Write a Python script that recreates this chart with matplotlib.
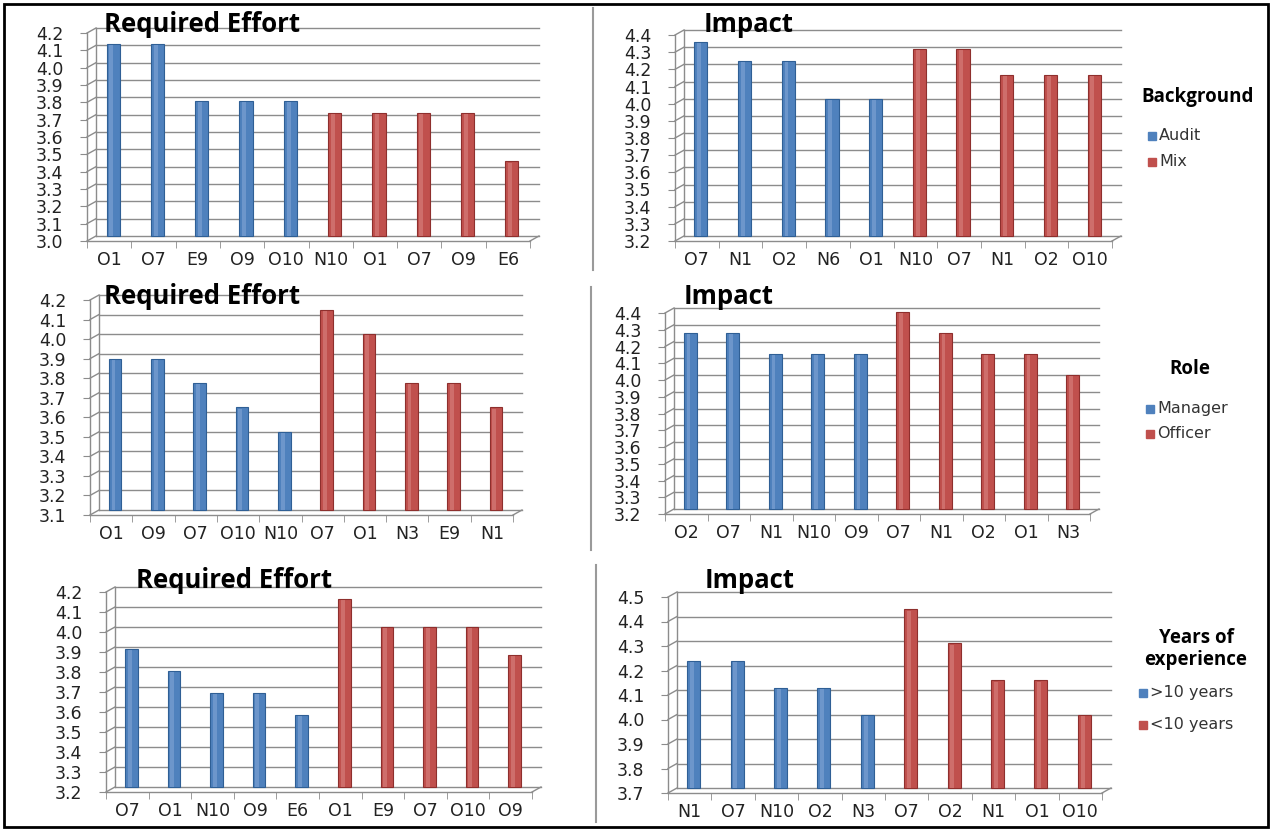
import numpy as np
import matplotlib
matplotlib.use("Agg")
import matplotlib.pyplot as plt
import matplotlib.transforms as mtransforms
from matplotlib.patches import Rectangle
from matplotlib.lines import Line2D

plt.rcParams["font.family"] = ["DejaVu Sans"]

W, H = 1272, 831

# ---- data ----
bg_effort_labels = ["O1", "O7", "E9", "O9", "O10", "N10", "O1", "O7", "O9", "E6"]
bg_effort_audit = [4.11, 4.11, 3.78, 3.78, 3.78]
bg_effort_mix = [3.71, 3.71, 3.71, 3.71, 3.43]

bg_impact_labels = ["O7", "N1", "O2", "N6", "O1", "N10", "O7", "N1", "O2", "O10"]
bg_impact_audit = [4.33, 4.22, 4.22, 4.00, 4.00]
bg_impact_mix = [4.29, 4.29, 4.14, 4.14, 4.14]

role_effort_labels = ["O1", "O9", "O7", "O10", "N10", "O7", "O1", "N3", "E9", "N1"]
role_effort_manager = [3.875, 3.875, 3.75, 3.625, 3.5]
role_effort_officer = [4.125, 4.0, 3.75, 3.75, 3.625]

role_impact_labels = ["O2", "O7", "N1", "N10", "O9", "O7", "N1", "O2", "O1", "N3"]
role_impact_manager = [4.25, 4.25, 4.125, 4.125, 4.125]
role_impact_officer = [4.375, 4.25, 4.125, 4.125, 4.0]

yrs_effort_labels = ["O7", "O1", "N10", "O9", "E6", "O1", "E9", "O7", "O10", "O9"]
yrs_effort_over10 = [3.89, 3.78, 3.67, 3.67, 3.56]
yrs_effort_under10 = [4.14, 4.00, 4.00, 4.00, 3.86]

yrs_impact_labels = ["N1", "O7", "N10", "O2", "N3", "O7", "O2", "N1", "O1", "O10"]
yrs_impact_over10 = [4.22, 4.22, 4.11, 4.11, 4.00]
yrs_impact_under10 = [4.43, 4.29, 4.14, 4.14, 4.00]

BLUE, BLUE_D, BLUE_L = "#4F81BD", "#2F5F95", "#86A8D8"
RED, RED_D, RED_L = "#C0504D", "#8E2F2D", "#DA8784"
GRID = "#8C8C8C"

fig = plt.figure(figsize=(W / 100, H / 100), dpi=100)
fig.patch.set_facecolor("white")


def px_axes(left, right, top, bottom):
    return fig.add_axes([left / W, 1 - bottom / H, (right - left) / W, (bottom - top) / H])


def fig_line(p1, p2, **kw):
    fig.add_artist(Line2D([p1[0] / W, p2[0] / W], [p1[1] / H, p2[1] / H],
                          transform=fig.transFigure, **kw))


def panel(rect, title, title_x, title_y, labels, blue_vals, red_vals, ymin, ymax):
    ax = px_axes(*rect)
    ax.set_xlim(-0.5, 9.5)
    ax.set_ylim(ymin, ymax)
    for s in ax.spines.values():
        s.set_visible(False)
    ax.patch.set_alpha(0)

    # back wall / side wall / floor
    back = mtransforms.offset_copy(ax.transData, fig=fig, x=9, y=5, units="dots")
    mid = mtransforms.offset_copy(ax.transData, fig=fig, x=4, y=5, units="dots")
    ticks = np.round(np.arange(ymin, ymax + 0.001, 0.1), 2)
    for t in ticks:
        ax.plot([-0.5, 9.5], [t, t], color=GRID, lw=1.0, transform=back, clip_on=False, zorder=1)
        fig_line(ax.transData.transform((-0.5, t)), back.transform((-0.5, t)), color=GRID, lw=1.0)
    ax.plot([-0.5, -0.5], [ymin, ymax], color=GRID, lw=1.0, transform=back, clip_on=False, zorder=1)
    ax.plot([-0.5, -0.5], [ymin, ymax], color=GRID, lw=1.0, clip_on=False, zorder=1)
    ax.plot([-0.5, 9.5], [ymin, ymin], color=GRID, lw=1.0, clip_on=False, zorder=1)
    fig_line(ax.transData.transform((9.5, ymin)), back.transform((9.5, ymin)), color=GRID, lw=1.0)

    # cylinder-like bars
    xs = np.arange(10)
    vals = list(blue_vals) + list(red_vals)
    cols = [(BLUE, BLUE_D, BLUE_L)] * 5 + [(RED, RED_D, RED_L)] * 5
    for x, v, (c, cd, cl) in zip(xs, vals, cols):
        ax.bar(x, v - ymin, bottom=ymin, width=0.30, color=c, edgecolor=cd, lw=0.8,
               zorder=3, transform=mid, clip_on=False)
        ax.bar(x - 0.04, v - ymin - 0.006, bottom=ymin, width=0.09, color=cl, lw=0, alpha=0.55,
               zorder=4, transform=mid, clip_on=False)

    ax.set_xticks(xs)
    ax.set_xticklabels(labels, fontsize=12.5, color="#222222")
    ax.set_xticks(np.arange(-0.5, 10, 1), minor=True)
    ax.tick_params(axis="x", which="major", length=0, pad=7)
    ax.tick_params(axis="x", which="minor", length=5, color=GRID, direction="out")
    ax.set_yticks(ticks)
    ax.set_yticklabels([f"{t:.1f}" for t in ticks], fontsize=12.5, color="#222222")
    ax.tick_params(axis="y", length=5, color=GRID, direction="out", pad=12)

    fig.text(title_x / W, 1 - title_y / H, title, fontsize=18.5, fontweight="bold",
             family="Open Sans", va="center", ha="left", color="black")
    return ax


panel((87, 530, 33, 241), "Required Effort", 104, 24, bg_effort_labels, bg_effort_audit, bg_effort_mix, 3.0, 4.2)
panel((675, 1112, 35, 241), "Impact", 704, 24, bg_impact_labels, bg_impact_audit, bg_impact_mix, 3.2, 4.4)
panel((90, 513, 300, 515), "Required Effort", 104, 297, role_effort_labels, role_effort_manager, role_effort_officer, 3.1, 4.2)
panel((665, 1090, 313, 514), "Impact", 684, 297, role_impact_labels, role_impact_manager, role_impact_officer, 3.2, 4.4)
panel((106, 532, 592, 792), "Required Effort", 136, 580, yrs_effort_labels, yrs_effort_over10, yrs_effort_under10, 3.2, 4.2)
panel((668, 1102, 597, 793), "Impact", 705, 580, yrs_impact_labels, yrs_impact_over10, yrs_impact_under10, 3.7, 4.5)


def legend(title_lines, tx, ty, names, lx, ly, gap):
    fig.text(tx / W, 1 - ty / H, title_lines, fontsize=13.5, fontweight="bold", family="Open Sans",
             ha="center", va="center", linespacing=1.15)
    for i, (name, c) in enumerate(zip(names, [BLUE, RED])):
        y = ly + i * gap
        fig.patches.append(Rectangle(((lx - 4) / W, 1 - (y + 4) / H), 8 / W, 8 / H,
                                     transform=fig.transFigure, color=c))
        fig.text((lx + 7) / W, 1 - y / H, name, fontsize=11.5, family="DejaVu Sans",
                 va="center", ha="left", color="#333333")


legend("Background", 1198, 97, ["Audit", "Mix"], 1152, 136, 26)
legend("Role", 1190, 369, ["Manager", "Officer"], 1150, 409, 25)
legend("Years of\nexperience", 1196, 649, [">10 years", "<10 years"], 1143, 693, 32)

# separators and outer frame
for x, y1, y2 in [(593, 8, 270), (591, 287, 550), (596, 565, 822)]:
    fig_line((x, H - y1), (x, H - y2), color="#9A9A9A", lw=1.5)
fig.patches.append(Rectangle((4 / W, 4 / H), (W - 8) / W, (H - 8) / H, transform=fig.transFigure,
                             fill=False, edgecolor="black", lw=2))

fig.savefig("out.png", dpi=100)
